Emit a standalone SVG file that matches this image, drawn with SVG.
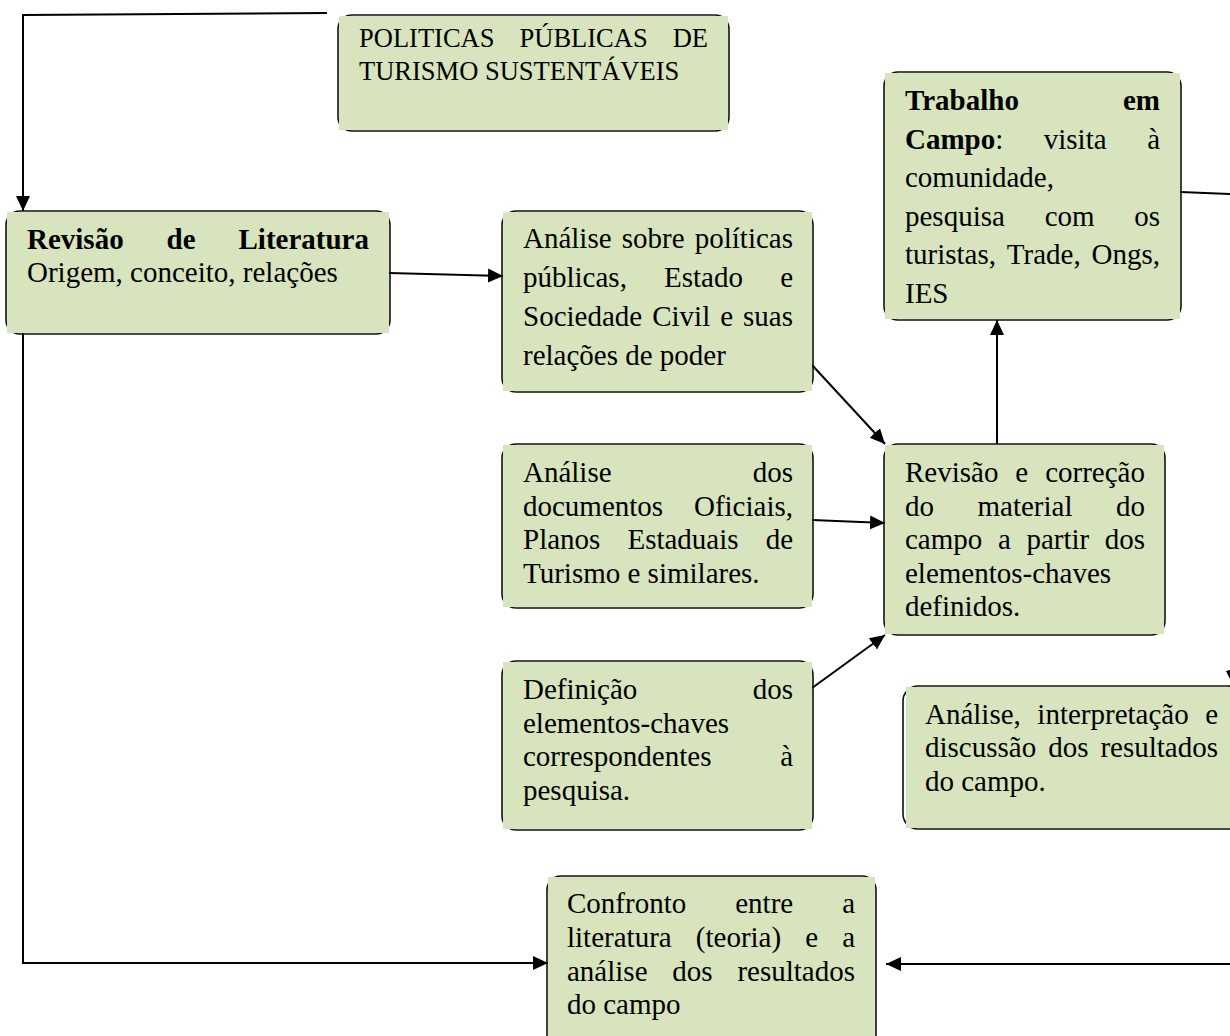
<svg xmlns="http://www.w3.org/2000/svg" width="1230" height="1036" viewBox="0 0 1230 1036">
<style>
.bd{fill:none;stroke:#111;stroke-width:1.6}
.bg{fill:#D7E4BD}
text{font-family:"Liberation Serif","Times New Roman",serif;font-size:29px;fill:#000}
.b{font-weight:bold}
.e{text-anchor:end}
.m{text-anchor:middle}
.t1{font-size:26.5px}
.cn{fill:none;stroke:#000;stroke-width:2}
</style>
<defs>
<marker id="ah" markerUnits="userSpaceOnUse" markerWidth="16" markerHeight="16" refX="15" refY="8" orient="auto">
<path d="M0,1 L15,8 L0,15 z" fill="#000"/>
</marker>
</defs>
<rect width="1230" height="1036" fill="#fff"/>

<g id="connectors">
<path class="cn" d="M327,13 L23,15 L23,211" marker-end="url(#ah)"/>
<path class="cn" d="M389,273 L503,276" marker-end="url(#ah)"/>
<path class="cn" d="M812,365 L885,444" marker-end="url(#ah)"/>
<path class="cn" d="M812,520 L885,523" marker-end="url(#ah)"/>
<path class="cn" d="M812,688 L885,635" marker-end="url(#ah)"/>
<path class="cn" d="M997,444 L997,320" marker-end="url(#ah)"/>
<path class="cn" d="M1180,192 L1230,194"/>
<path class="cn" d="M23,333 L23,963 L548,963" marker-end="url(#ah)"/>
<path class="cn" d="M1230,964 L886,964" marker-end="url(#ah)"/>
<polygon points="1226,671 1230,670 1230,679" fill="#000"/>
</g>

<g id="politicas">
<rect class="bd" x="338" y="15" width="391" height="116" rx="14"/>
<rect class="bg" x="339" y="16" width="389" height="114"/>
<text class="t1" y="47"><tspan x="359">POLITICAS</tspan><tspan class="m" x="583.6">PÚBLICAS</tspan><tspan class="e" x="708">DE</tspan></text>
<text class="t1" x="359" y="80">TURISMO SUSTENTÁVEIS</text>
</g>

<g id="revisao-literatura">
<rect class="bd" x="6" y="211" width="384" height="123" rx="14"/>
<rect class="bg" x="7" y="212" width="382" height="121"/>
<text class="b" y="249"><tspan x="27">Revisão</tspan><tspan class="m" x="181.1">de</tspan><tspan class="e" x="369">Literatura</tspan></text>
<text x="27" y="282">Origem, conceito, relações</text>
</g>

<g id="analise-politicas">
<rect class="bd" x="502" y="211" width="311" height="181" rx="14"/>
<rect class="bg" x="503" y="212" width="309" height="179"/>
<text y="248"><tspan x="523">Análise</tspan><tspan class="m" x="653.2">sobre</tspan><tspan class="e" x="793">políticas</tspan></text>
<text y="287"><tspan x="523">públicas,</tspan><tspan class="m" x="703.5">Estado</tspan><tspan class="e" x="793">e</tspan></text>
<text y="326"><tspan x="523">Sociedade</tspan><tspan x="652.2">Civil</tspan><tspan x="720.2">e</tspan><tspan class="e" x="793">suas</tspan></text>
<text x="523" y="365">relações de poder</text>
</g>

<g id="analise-documentos">
<rect class="bd" x="502" y="444" width="311" height="164" rx="14"/>
<rect class="bg" x="503" y="445" width="309" height="162"/>
<text y="482"><tspan x="523">Análise</tspan><tspan class="e" x="793">dos</tspan></text>
<text y="515.5"><tspan x="523">documentos</tspan><tspan class="e" x="793">Oficiais,</tspan></text>
<text y="549"><tspan x="523">Planos</tspan><tspan class="m" x="683">Estaduais</tspan><tspan class="e" x="793">de</tspan></text>
<text x="523" y="582.5">Turismo e similares.</text>
</g>

<g id="definicao">
<rect class="bd" x="502" y="661" width="311" height="169" rx="14"/>
<rect class="bg" x="503" y="662" width="309" height="167"/>
<text y="699"><tspan x="523">Definição</tspan><tspan class="e" x="793">dos</tspan></text>
<text x="523" y="732.5">elementos-chaves</text>
<text y="766"><tspan x="523">correspondentes</tspan><tspan class="e" x="793">à</tspan></text>
<text x="523" y="799.5">pesquisa.</text>
</g>

<g id="trabalho-campo">
<rect class="bd" x="884" y="72" width="297" height="248" rx="14"/>
<rect class="bg" x="885" y="73" width="295" height="246"/>
<text class="b" y="110"><tspan x="905">Trabalho</tspan><tspan class="e" x="1160">em</tspan></text>
<text y="148.5"><tspan x="905" class="b">Campo</tspan><tspan>:</tspan><tspan class="m" x="1075.2">visita</tspan><tspan class="e" x="1160">à</tspan></text>
<text x="905" y="187">comunidade,</text>
<text y="225.5"><tspan x="905">pesquisa</tspan><tspan class="m" x="1069.6">com</tspan><tspan class="e" x="1160">os</tspan></text>
<text y="264"><tspan x="905">turistas,</tspan><tspan class="m" x="1043.8">Trade,</tspan><tspan class="e" x="1160">Ongs,</tspan></text>
<text x="905" y="302.5">IES</text>
</g>

<g id="revisao-correcao">
<rect class="bd" x="884" y="444" width="281" height="191" rx="14"/>
<rect class="bg" x="885" y="445" width="279" height="189"/>
<text y="482"><tspan x="905">Revisão</tspan><tspan class="m" x="1021.8">e</tspan><tspan class="e" x="1145">correção</tspan></text>
<text y="515.5"><tspan x="905">do</tspan><tspan class="m" x="1025">material</tspan><tspan class="e" x="1145">do</tspan></text>
<text y="549"><tspan x="905">campo</tspan><tspan x="997.9">a</tspan><tspan x="1026.4">partir</tspan><tspan class="e" x="1145">dos</tspan></text>
<text x="905" y="582.5">elementos-chaves</text>
<text x="905" y="616">definidos.</text>
</g>

<g id="analise-resultados">
<rect class="bd" x="903" y="686" width="340" height="143" rx="15"/>
<rect class="bg" x="906" y="687" width="324" height="141"/>
<text y="723.5"><tspan x="925">Análise,</tspan><tspan class="m" x="1113">interpretação</tspan><tspan class="e" x="1218">e</tspan></text>
<text y="757"><tspan x="925">discussão</tspan><tspan class="m" x="1068.3">dos</tspan><tspan class="e" x="1218">resultados</tspan></text>
<text x="925" y="790.5">do campo.</text>
</g>

<g id="confronto">
<rect class="bd" x="547" y="876" width="329" height="180" rx="14"/>
<rect class="bg" x="548" y="877" width="327" height="170"/>
<text y="913"><tspan x="567">Confronto</tspan><tspan class="m" x="764.2">entre</tspan><tspan class="e" x="855">a</tspan></text>
<text y="947"><tspan x="567">literatura</tspan><tspan x="695.8">(teoria)</tspan><tspan x="805.2">e</tspan><tspan class="e" x="855">a</tspan></text>
<text y="980.5"><tspan x="567">análise</tspan><tspan class="m" x="692.5">dos</tspan><tspan class="e" x="855">resultados</tspan></text>
<text x="567" y="1014">do campo</text>
</g>
</svg>
